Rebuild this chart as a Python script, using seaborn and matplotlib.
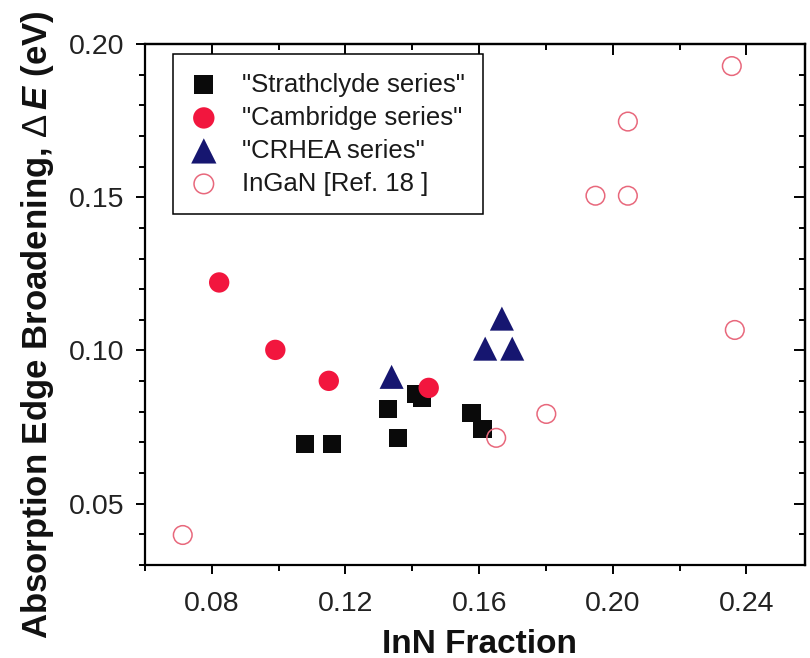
import matplotlib
matplotlib.use("Agg")
import matplotlib.pyplot as plt
from matplotlib.ticker import MultipleLocator, FormatStrFormatter
import seaborn as sns
import pandas as pd

# InN fraction (x) and absorption edge broadening in eV (y) for each series
strath_x = [0.1078, 0.1159, 0.1328, 0.1357, 0.1410, 0.1428, 0.1577, 0.1610]
strath_y = [0.0695, 0.0695, 0.0809, 0.0715, 0.0858, 0.0845, 0.0796, 0.0744]

camb_x = [0.0822, 0.0990, 0.1150, 0.1449]
camb_y = [0.1222, 0.1002, 0.0901, 0.0878]

crhea_x = [0.1338, 0.1618, 0.1668, 0.1699]
crhea_y = [0.0914, 0.1006, 0.1104, 0.1006]

ingan_x = [0.0713, 0.1651, 0.1801, 0.1948, 0.2045, 0.2045, 0.2356, 0.2365]
ingan_y = [0.0398, 0.0715, 0.0793, 0.1505, 0.1505, 0.1747, 0.1928, 0.1067]

series_labels = ['"Strathclyde series"', '"Cambridge series"',
                 '"CRHEA series"', 'InGaN [Ref. 18 ]']

x_ticks = [0.08, 0.12, 0.16, 0.20, 0.24]
y_ticks = [0.05, 0.10, 0.15, 0.20]

sns.set_theme(style="white")
plt.rcParams["font.family"] = ["Liberation Sans", "DejaVu Sans"]
plt.rcParams["mathtext.fontset"] = "custom"
plt.rcParams["mathtext.it"] = "Liberation Sans:style=italic"
plt.rcParams["mathtext.bf"] = "Liberation Sans:style=italic:weight=bold"
plt.rcParams["mathtext.rm"] = "Liberation Sans"

fig = plt.figure(figsize=(8.10, 6.58), dpi=100)
ax = fig.add_axes([0.179, 0.1413, 0.8148, 0.7918])

strath = pd.DataFrame({"x": strath_x, "y": strath_y})
camb = pd.DataFrame({"x": camb_x, "y": camb_y})
crhea = pd.DataFrame({"x": crhea_x, "y": crhea_y})
ingan = pd.DataFrame({"x": ingan_x, "y": ingan_y})

sns.scatterplot(data=strath, x="x", y="y", ax=ax, marker="s", s=169,
                color="#0a0a0a", edgecolor="none", label=series_labels[0], zorder=3)
sns.scatterplot(data=camb, x="x", y="y", ax=ax, marker="o", s=215,
                color="#f2163e", edgecolor="none", label=series_labels[1], zorder=4)
sns.scatterplot(data=crhea, x="x", y="y", ax=ax, marker="^", s=300,
                color="#161670", edgecolor="none", label=series_labels[2], zorder=3)
sns.scatterplot(data=ingan, x="x", y="y", ax=ax, marker="o", s=180,
                fc="none", ec="#e8687c", linewidth=1.1,
                label=series_labels[3], zorder=5)

ax.set_xlim(0.06, 0.2575)
ax.set_ylim(0.03, 0.20)
ax.set_xticks(x_ticks)
ax.set_yticks(y_ticks)
ax.xaxis.set_minor_locator(MultipleLocator(0.02))
ax.yaxis.set_minor_locator(MultipleLocator(0.01))
ax.xaxis.set_major_formatter(FormatStrFormatter("%.2f"))
ax.yaxis.set_major_formatter(FormatStrFormatter("%.2f"))

for sp in ax.spines.values():
    sp.set_color("black")
    sp.set_linewidth(1.6)

ax.tick_params(which="both", direction="out", color="black", width=1.4,
               bottom=True, left=True, top=False, right=False,
               labelsize=20.5, labelcolor="#222222")
ax.tick_params(axis="x", pad=12)
ax.tick_params(axis="y", pad=8)
ax.tick_params(which="major", length=6.8)
ax.tick_params(which="minor", length=4.0)

# mirrored ticks pointing inward on the top and right spines
top = ax.secondary_xaxis("top")
top.set_xticks(x_ticks)
top.xaxis.set_minor_locator(MultipleLocator(0.02))
top.tick_params(which="both", direction="in", labeltop=False, width=1.4, color="black")
top.tick_params(which="major", length=8)
top.tick_params(which="minor", length=4.3)
top.spines["top"].set_linewidth(1.6)

right = ax.secondary_yaxis("right")
right.set_yticks(y_ticks)
right.yaxis.set_minor_locator(MultipleLocator(0.01))
right.tick_params(which="both", direction="in", labelright=False, width=1.4, color="black")
right.tick_params(which="major", length=8)
right.tick_params(which="minor", length=4.3)
right.spines["right"].set_linewidth(1.6)

ax.set_xlabel("InN Fraction", fontsize=24, fontweight="bold", color="#111111")
ax.set_ylabel(r"Absorption Edge Broadening, $\mathit{Δ}\,\mathbf{E}$ (eV)",
              fontsize=25, fontweight="bold", color="#111111")
ax.xaxis.set_label_coords(0.5076, -0.122)
ax.yaxis.set_label_coords(-0.135, 0.4607)

leg = ax.legend(loc="upper left", bbox_to_anchor=(0.0424, 0.981),
                borderaxespad=0, frameon=True, fancybox=False, shadow=False,
                fontsize=18.5, borderpad=0.73, handlelength=0.94,
                handletextpad=1.0, labelspacing=0.35, markerscale=1.05)
leg.get_frame().set_edgecolor("black")
leg.get_frame().set_linewidth(1.1)
leg.get_frame().set_facecolor("white")
leg.get_frame().set_alpha(1)
for t in leg.get_texts():
    t.set_color("#1a1a1a")

fig.savefig("out.png", dpi=100, facecolor="white")
